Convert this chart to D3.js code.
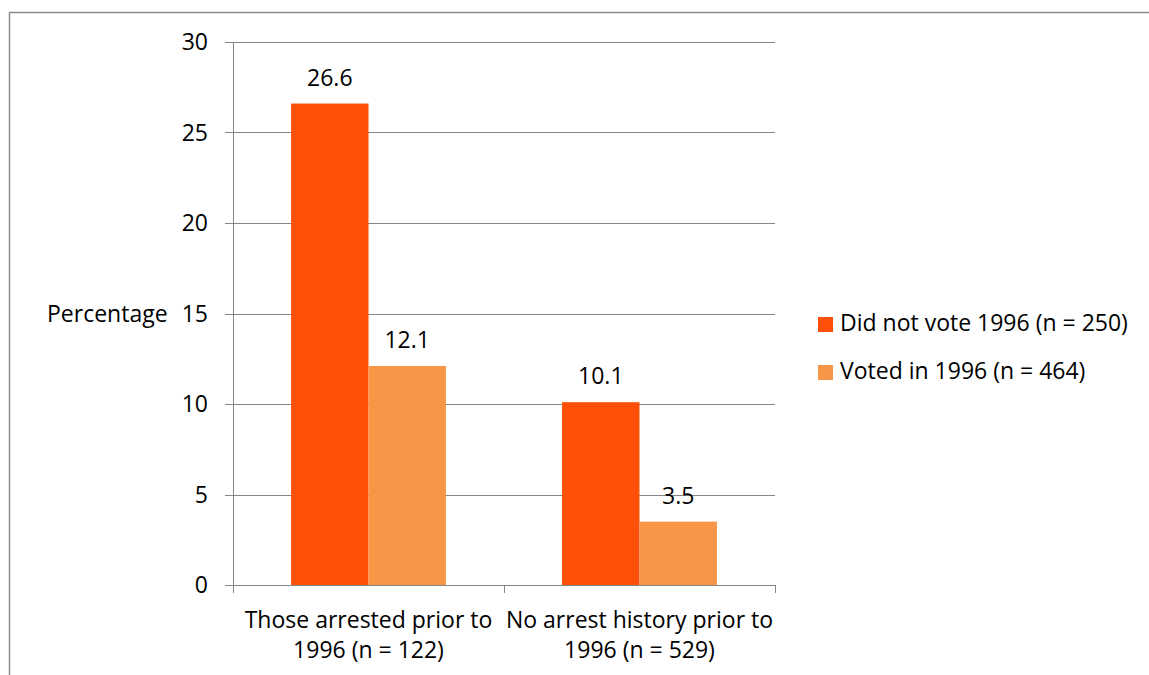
<!DOCTYPE html>
<html lang="en">
<head>
    <meta charset="UTF-8">
    <title>Arrests by 1996 voting</title>
    <script src="https://d3js.org/d3.v7.min.js"></script>
    <style>
        body { margin: 0; background: #fff; }
        text { font-family: "Open Sans", sans-serif; fill: #000; font-size: 23px; }
        .grid line { stroke: #868686; stroke-width: 1; }
    </style>
</head>
<body>
    <svg id="chart"></svg>
    <script>
        const categories = [
            ['Those arrested prior to', '1996 (n = 122)'],
            ['No arrest history prior to', '1996 (n = 529)']
        ];
        const seriesNames = ['Did not vote 1996 (n = 250)', 'Voted in 1996 (n = 464)'];
        const didNotVote = [26.6, 10.1];
        const voted = [12.1, 3.5];
        const yTicks = [0, 5, 10, 15, 20, 25, 30];
        const colors = ['#fe5008', '#f79646'];

        const width = 1149, height = 675;
        const svg = d3.select('#chart').attr('width', width).attr('height', height);

        // outer frame (only top and left edges visible)
        svg.append('path')
            .attr('d', `M9.5,${height} V12.5 H${width}`)
            .attr('fill', 'none')
            .attr('stroke', '#8c8c8c')
            .attr('stroke-width', 1.5);

        const plotLeft = 233, plotRight = 775, plotTop = 42, plotBottom = 585;

        const y = d3.scaleLinear().domain([0, 30]).range([plotBottom, plotTop]);
        const x0 = d3.scaleBand().domain(d3.range(categories.length)).range([plotLeft, plotRight]).padding(0);
        const x1 = d3.scaleBand().domain([0, 1]).range([0, x0.bandwidth()]).paddingInner(0).paddingOuter(0.75);

        // gridlines
        svg.append('g').attr('class', 'grid')
            .selectAll('line').data(yTicks).enter().append('line')
            .attr('x1', plotLeft - 8).attr('x2', plotRight)
            .attr('y1', d => Math.round(y(d)) + 0.5).attr('y2', d => Math.round(y(d)) + 0.5);

        // y axis line
        svg.append('line')
            .attr('x1', plotLeft + 0.5).attr('x2', plotLeft + 0.5)
            .attr('y1', plotTop).attr('y2', plotBottom + 0.5)
            .attr('stroke', '#868686');

        // x category ticks
        svg.selectAll('.xtick').data([0, 1, 2]).enter().append('line')
            .attr('x1', d => Math.round(plotLeft + d * x0.step()) + 0.5)
            .attr('x2', d => Math.round(plotLeft + d * x0.step()) + 0.5)
            .attr('y1', plotBottom).attr('y2', plotBottom + 8)
            .attr('stroke', '#868686');

        // y tick labels
        svg.selectAll('.ylabel').data(yTicks).enter().append('text')
            .attr('x', 208).attr('y', d => y(d))
            .attr('dy', '0.35em')
            .attr('text-anchor', 'end')
            .text(d => d);

        svg.append('text')
            .attr('x', 47).attr('y', y(15)).attr('dy', '0.35em')
            .text('Percentage');

        const rows = categories.map((c, i) => [didNotVote[i], voted[i]]);

        const groups = svg.selectAll('.cat').data(rows).enter().append('g')
            .attr('transform', (d, i) => `translate(${x0(i)},0)`);

        groups.selectAll('rect').data(d => d).enter().append('rect')
            .attr('x', (d, j) => x1(j))
            .attr('width', x1.bandwidth())
            .attr('y', d => y(d))
            .attr('height', d => plotBottom - y(d))
            .attr('fill', (d, j) => colors[j]);

        groups.selectAll('.val').data(d => d).enter().append('text')
            .attr('x', (d, j) => x1(j) + x1.bandwidth() / 2)
            .attr('y', d => y(d) - 18)
            .attr('text-anchor', 'middle')
            .text(d => d.toFixed(1));

        // category labels
        const catLabels = svg.selectAll('.catlabel').data(categories).enter().append('text')
            .attr('text-anchor', 'middle')
            .attr('transform', (d, i) => `translate(${x0(i) + x0.bandwidth() / 2},0)`);
        catLabels.selectAll('tspan').data(d => d).enter().append('tspan')
            .attr('x', 0)
            .attr('y', (d, k) => 628 + k * 30)
            .text(d => d);

        // legend
        const legend = svg.selectAll('.legend').data(seriesNames).enter().append('g')
            .attr('transform', (d, i) => `translate(818,${317 + i * 48})`);
        legend.append('rect').attr('width', 15).attr('height', 15)
            .attr('fill', (d, i) => colors[i]);
        legend.append('text')
            .attr('x', 22).attr('y', 7.5).attr('dy', '0.3em')
            .text(d => d);
    </script>
</body>
</html>
